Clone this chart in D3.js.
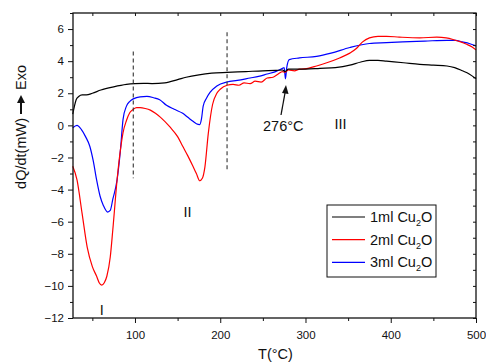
<!DOCTYPE html>
<html>
<head>
<meta charset="utf-8">
<script src="https://cdn.jsdelivr.net/npm/d3@7"></script>
<style>
body { margin: 0; background: #fff; }
text { font-family: "Liberation Sans", Arial, sans-serif; fill: #111; }
</style>
</head>
<body>
<script>
// DSC curves
var series_names = ['1ml Cu', '2ml Cu', '3ml Cu'];
var series_colors = ['#000000', '#ff0000', '#0000ff'];

var t_1ml = [27, 29, 31, 34, 38, 43, 50, 60, 75, 90, 100, 110, 120, 135, 150, 160, 175, 190, 208, 230, 250, 265, 273, 276, 280, 300, 317, 335, 352, 365, 375, 385, 395, 415, 434, 450, 466, 475, 484, 492, 500];
var v_1ml = [0.7, 1.2, 1.6, 1.8, 1.9, 1.9, 2.0, 2.2, 2.4, 2.55, 2.6, 2.62, 2.6, 2.65, 2.85, 3.0, 3.15, 3.25, 3.3, 3.35, 3.4, 3.42, 3.45, 3.35, 3.5, 3.5, 3.55, 3.6, 3.75, 3.95, 4.05, 4.05, 4.0, 3.9, 3.8, 3.75, 3.7, 3.6, 3.4, 3.2, 2.9];

var t_2ml = [27, 32, 38, 44, 50, 55, 58, 61, 64, 67, 71, 74, 79, 83, 86, 90, 94, 98, 102, 106, 112, 118, 124, 130, 141, 150, 156, 162, 168, 172, 176, 179, 182, 186, 191, 196, 200, 208, 215, 222, 228, 235, 241, 248, 255, 262, 268, 273, 276, 280, 287, 293, 303, 313, 325, 340, 352, 360, 367, 375, 385, 395, 410, 434, 454, 465, 473, 482, 489, 495, 500];
var v_2ml = [-2.55, -3.4, -5.5, -7.6, -8.8, -9.4, -9.8, -9.95, -9.8, -9.4, -8.2, -6.5, -3.4, -1.5, -0.45, 0.3, 0.8, 1.0, 1.1, 1.1, 1.05, 0.95, 0.75, 0.5, -0.1, -0.7, -1.3, -1.9, -2.55, -3.0, -3.45, -3.3, -2.6, -0.5, 1.3, 2.0, 2.25, 2.5, 2.55, 2.5, 2.65, 2.6, 2.75, 2.7, 2.95, 3.0, 3.2, 3.35, 3.3, 3.45, 3.4, 3.5, 3.55, 3.7, 3.9, 4.2, 4.5, 4.8, 5.2, 5.45, 5.55, 5.55, 5.5, 5.45, 5.5, 5.45, 5.35, 5.2, 5.05, 4.9, 4.7];

var t_3ml = [27, 32, 37, 42, 47, 51, 55, 59, 63, 68, 71, 74, 79, 83, 86, 90, 94, 98, 106, 114, 122, 129, 137, 146, 156, 162, 168, 172, 176, 178, 180, 184, 188, 196, 208, 220, 235, 245, 255, 265, 273, 275, 276.5, 278, 281, 293, 313, 330, 352, 375, 395, 414, 440, 466, 476, 484, 492, 500];
var v_3ml = [-0.15, 0.0, -0.25, -0.7, -1.3, -2.2, -3.4, -4.4, -5.0, -5.4, -5.3, -4.6, -3.4, -1.5, 0.37, 1.2, 1.5, 1.65, 1.78, 1.8, 1.72, 1.6, 1.25, 1.0, 0.75, 0.5, 0.25, 0.1, 0.05, 0.4, 1.2, 1.7, 2.05, 2.45, 2.7, 2.8, 2.95, 3.05, 3.2, 3.35, 3.55, 3.6, 2.9, 3.6, 4.1, 4.2, 4.3, 4.5, 4.85, 5.1, 5.15, 5.2, 5.25, 5.3, 5.3, 5.2, 5.1, 4.95];

var x_ticks = [100, 200, 300, 400, 500];
var x_minor = [50, 150, 250, 350, 450];
var y_ticks = [-12, -10, -8, -6, -4, -2, 0, 2, 4, 6];
var y_minor = [-11, -9, -7, -5, -3, -1, 1, 3, 5, 7];
var dashed_at = [98, 208];
var regions = [['I', 61, -11.8], ['II', 161.5, -5.7], ['III', 341, -0.2]];

var width = 486;
var height = 364;
var p_left = 73, p_right = 476, p_top = 13, p_bottom = 318;

var svg = d3.select("body").append("svg")
.attr("width", width)
.attr("height", height);

var x = d3.scaleLinear().domain([27.3, 500]).range([p_left, p_right]);
var y = d3.scaleLinear().domain([-12, 7]).range([p_bottom, p_top]);

// curves
var line = d3.line()
.x(function(d){ return x(d[0]); })
.y(function(d){ return y(d[1]); })
.curve(d3.curveMonotoneX);

var all_t = [t_1ml, t_2ml, t_3ml];
var all_v = [v_1ml, v_2ml, v_3ml];
[2, 1, 0].forEach(function(i){
	var pts = all_t[i].map(function(t, k){ return [t, all_v[i][k]]; });
	svg.append("path")
	.attr("d", line(pts))
	.attr("fill", "none")
	.attr("stroke", series_colors[i])
	.attr("stroke-width", 1.2);
});

// dashed guides
svg.append("line").attr("x1", x(dashed_at[0])).attr("x2", x(dashed_at[0]))
.attr("y1", y(4.6)).attr("y2", y(-3.3))
.attr("stroke", "#333").attr("stroke-width", 1.1).attr("stroke-dasharray", "4,3");
svg.append("line").attr("x1", x(dashed_at[1])).attr("x2", x(dashed_at[1]))
.attr("y1", y(5.8)).attr("y2", y(-2.8))
.attr("stroke", "#333").attr("stroke-width", 1.1).attr("stroke-dasharray", "4,3");

// axes
svg.append("g").attr("transform", "translate(0," + p_bottom + ")")
.call(d3.axisBottom(x).tickValues(x_ticks).tickSize(5).tickPadding(8));
svg.append("g").attr("transform", "translate(0," + p_bottom + ")")
.call(d3.axisBottom(x).tickValues(x_minor).tickSize(3).tickFormat(""));
svg.append("g").attr("transform", "translate(" + p_left + ",0)")
.call(d3.axisLeft(y).tickValues(y_ticks).tickSize(5).tickPadding(4));
svg.append("g").attr("transform", "translate(" + p_left + ",0)")
.call(d3.axisLeft(y).tickValues(y_minor).tickSize(3).tickFormat(""));
svg.append("g").attr("transform", "translate(0," + p_top + ")")
.call(d3.axisBottom(x).tickValues(x_ticks.concat(x_minor)).tickSize(3).tickFormat(""));
svg.append("g").attr("transform", "translate(" + p_right + ",0)")
.call(d3.axisLeft(y).tickValues(y_ticks.concat(y_minor)).tickSize(3).tickFormat(""));

svg.selectAll(".domain").remove();
svg.selectAll(".tick line").attr("stroke", "#111").attr("stroke-width", 1);
svg.selectAll(".tick text").style("font-family", "'Liberation Sans', Arial, sans-serif").style("font-size", "11.5px").attr("fill", "#111");

svg.append("rect")
.attr("x", p_left).attr("y", p_top)
.attr("width", p_right - p_left).attr("height", p_bottom - p_top)
.attr("fill", "none").attr("stroke", "#111").attr("stroke-width", 1.3);

// axis labels
svg.append("text")
.attr("x", (p_left + p_right) / 2 + 1).attr("y", 359)
.attr("text-anchor", "middle")
.style("font-size", "14.5px")
.text("T(°C)");

var ylab = svg.append("g").attr("transform", "translate(26,196) rotate(-90)");
ylab.append("text")
.attr("x", 78).attr("y", 0)
.attr("text-anchor", "end")
.style("font-size", "14.5px")
.text("dQ/dt(mW)");
ylab.append("line")
.attr("x1", 82).attr("x2", 94).attr("y1", -5).attr("y2", -5)
.attr("stroke", "#111").attr("stroke-width", 2);
ylab.append("path")
.attr("d", "M93,-9 L101,-5 L93,-1 Z")
.attr("fill", "#111");
ylab.append("text")
.attr("x", 106).attr("y", 0)
.style("font-size", "14.5px")
.text("Exo");

// region labels
svg.selectAll(".region")
.data(regions)
.enter()
.append("text")
.attr("class", "region")
.attr("x", function(d){ return x(d[1]); })
.attr("y", function(d){ return y(d[2]); })
.attr("text-anchor", "middle")
.style("font-size", "14.5px")
.text(function(d){ return d[0]; });

// 276 annotation
svg.append("text")
.attr("x", 263).attr("y", 131)
.style("font-size", "14.5px")
.text("276°C");
svg.append("line")
.attr("x1", 281).attr("y1", 115).attr("x2", 285).attr("y2", 93)
.attr("stroke", "#111").attr("stroke-width", 1.3);
svg.append("path")
.attr("d", "M286,85 L288.5,94 L282,93 Z")
.attr("fill", "#111");

// legend
var lg = svg.append("g").attr("transform", "translate(327,205)");
lg.append("rect")
.attr("width", 109).attr("height", 72)
.attr("fill", "#fff").attr("stroke", "#111").attr("stroke-width", 1);
series_names.forEach(function(name, i){
	var yy = 12 + i * 22.7;
	lg.append("line")
	.attr("x1", 5).attr("x2", 38).attr("y1", yy).attr("y2", yy)
	.attr("stroke", series_colors[i]).attr("stroke-width", 1.2);
	var t = lg.append("text")
	.attr("x", 43).attr("y", yy + 5)
	.style("font-size", "14.5px");
	t.append("tspan").text(name);
	t.append("tspan").attr("dy", 4).style("font-size", "9px").text("2");
	t.append("tspan").attr("dy", -4).text("O");
});
</script>
</body>
</html>
